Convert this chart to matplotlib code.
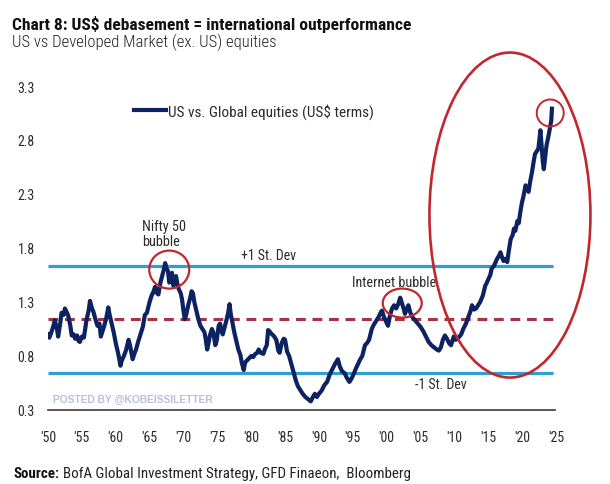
import matplotlib
matplotlib.use("Agg")
import matplotlib.pyplot as plt
import matplotlib.font_manager as fm
import matplotlib.transforms as mtransforms
from matplotlib.patches import Ellipse

# ---------------- data ----------------
years = [1950.0, 1950.2, 1950.5, 1950.8, 1951.0, 1951.3, 1951.5, 1951.8, 1952.0, 1952.3,
         1952.5, 1952.8, 1953.0, 1953.3, 1953.5, 1953.8, 1954.0, 1954.3, 1954.5, 1954.7,
         1955.0, 1955.3, 1955.7, 1956.0, 1956.2, 1956.5, 1956.7, 1957.0, 1957.3, 1957.6,
         1957.8, 1958.0, 1958.3, 1958.6, 1958.9, 1959.1, 1959.4, 1959.7, 1960.0, 1960.3,
         1960.5, 1960.7, 1960.9, 1961.2, 1961.5, 1961.9, 1962.1, 1962.5, 1962.8, 1963.0,
         1963.3, 1963.6, 1964.0, 1964.3, 1964.6, 1965.0, 1965.3, 1965.6, 1965.8, 1966.1,
         1966.3, 1966.6, 1966.9, 1967.1, 1967.3, 1967.5, 1967.7, 1967.9, 1968.1, 1968.3,
         1968.5, 1968.7, 1968.9, 1969.1, 1969.3, 1969.6, 1969.8, 1970.0, 1970.2, 1970.4,
         1970.7, 1971.0, 1971.2, 1971.4, 1971.6, 1971.9, 1972.2, 1972.5, 1972.8, 1973.1,
         1973.3, 1973.5, 1973.7, 1973.9, 1974.2, 1974.4, 1974.7, 1974.9, 1975.2, 1975.4,
         1975.6, 1975.8, 1976.0, 1976.3, 1976.6, 1976.8, 1977.0, 1977.2, 1977.5, 1977.8,
         1978.1, 1978.4, 1978.6, 1978.9, 1979.1, 1979.4, 1979.7, 1980.0, 1980.3, 1980.6,
         1980.9, 1981.1, 1981.4, 1981.8, 1982.0, 1982.3, 1982.5, 1982.7, 1982.9, 1983.1,
         1983.4, 1983.7, 1984.0, 1984.2, 1984.5, 1984.8, 1985.0, 1985.3, 1985.6, 1986.0,
         1986.3, 1986.6, 1986.9, 1987.2, 1987.6, 1988.0, 1988.4, 1988.8, 1989.1, 1989.4,
         1989.7, 1990.0, 1990.4, 1990.8, 1991.2, 1991.6, 1992.0, 1992.4, 1992.8, 1993.1,
         1993.4, 1993.8, 1994.1, 1994.5, 1994.8, 1995.1, 1995.5, 1995.8, 1996.1, 1996.4,
         1996.8, 1997.1, 1997.4, 1997.8, 1998.1, 1998.4, 1998.8, 1999.1, 1999.3, 1999.6,
         1999.9, 2000.2, 2000.5, 2000.8, 2001.1, 2001.4, 2001.7, 2002.0, 2002.2, 2002.5,
         2002.7, 2003.0, 2003.2, 2003.5, 2003.8, 2004.2, 2004.6, 2005.0, 2005.4, 2005.8,
         2006.2, 2006.6, 2007.0, 2007.4, 2007.7, 2008.0, 2008.3, 2008.6, 2008.9, 2009.2,
         2009.5, 2009.9, 2010.2, 2010.6, 2011.0, 2011.3, 2011.7, 2012.1, 2012.4, 2012.6,
         2012.9, 2013.2, 2013.5, 2013.8, 2014.2, 2014.55, 2014.8, 2015.0, 2015.3, 2015.5,
         2015.8, 2016.1, 2016.3, 2016.6, 2016.8, 2017.0, 2017.25, 2017.5, 2017.8, 2018.0,
         2018.3, 2018.6, 2018.8, 2019.0, 2019.3, 2019.5, 2019.7, 2019.97, 2020.2, 2020.5,
         2020.7, 2020.95, 2021.2, 2021.45, 2021.7, 2021.9, 2022.1, 2022.4, 2022.7, 2022.9,
         2023.05, 2023.2, 2023.4, 2023.6, 2023.9, 2024.15, 2024.3, 2024.4]
values = [1.00, 0.97, 1.02, 1.08, 1.13, 1.06, 0.98, 1.10, 1.20, 1.18,
          1.24, 1.20, 1.17, 1.08, 0.99, 1.00, 0.96, 0.99, 0.94, 0.93,
          0.98, 0.97, 1.14, 1.22, 1.31, 1.24, 1.21, 1.14, 1.08, 1.10,
          0.98, 1.02, 1.08, 1.15, 1.25, 1.18, 1.10, 1.02, 0.92, 0.84,
          0.78, 0.71, 0.76, 0.80, 0.85, 0.95, 0.90, 0.77, 0.83, 0.86,
          0.93, 0.99, 1.07, 1.18, 1.20, 1.30, 1.36, 1.40, 1.44, 1.38,
          1.37, 1.48, 1.55, 1.60, 1.66, 1.61, 1.59, 1.48, 1.52, 1.57,
          1.45, 1.48, 1.54, 1.47, 1.42, 1.38, 1.32, 1.22, 1.14, 1.18,
          1.27, 1.34, 1.40, 1.38, 1.30, 1.22, 1.14, 1.08, 1.05, 1.02,
          0.95, 0.86, 0.92, 0.99, 1.05, 1.02, 0.90, 0.94, 1.08, 1.10,
          1.04, 1.00, 1.05, 1.12, 1.20, 1.28, 1.18, 1.12, 1.02, 0.94,
          0.86, 0.81, 0.74, 0.67, 0.74, 0.76, 0.78, 0.80, 0.79, 0.82,
          0.83, 0.86, 0.83, 0.82, 0.86, 0.90, 1.04, 1.03, 1.01, 1.00,
          0.98, 0.95, 0.85, 0.83, 0.92, 0.96, 0.95, 0.84, 0.80, 0.71,
          0.64, 0.57, 0.52, 0.49, 0.45, 0.42, 0.40, 0.38, 0.42, 0.45,
          0.42, 0.45, 0.48, 0.53, 0.56, 0.63, 0.68, 0.73, 0.77, 0.70,
          0.66, 0.64, 0.60, 0.56, 0.59, 0.63, 0.69, 0.73, 0.77, 0.80,
          0.90, 0.92, 0.95, 1.05, 1.09, 1.12, 1.16, 1.20, 1.22, 1.16,
          1.12, 1.08, 1.18, 1.24, 1.27, 1.24, 1.28, 1.34, 1.30, 1.24,
          1.19, 1.24, 1.27, 1.20, 1.16, 1.13, 1.10, 1.07, 1.03, 0.98,
          0.93, 0.90, 0.88, 0.86, 0.85, 0.88, 0.95, 0.99, 0.96, 0.92,
          0.90, 0.98, 0.95, 0.97, 1.00, 1.05, 1.10, 1.17, 1.22, 1.27,
          1.23, 1.24, 1.27, 1.30, 1.36, 1.45, 1.48, 1.51, 1.55, 1.61,
          1.63, 1.67, 1.70, 1.73, 1.76, 1.72, 1.68, 1.70, 1.67, 1.76,
          1.88, 1.92, 1.98, 1.96, 2.05, 2.03, 2.12, 2.22, 2.28, 2.38,
          2.36, 2.32, 2.42, 2.50, 2.60, 2.67, 2.69, 2.72, 2.89, 2.72,
          2.60, 2.53, 2.64, 2.75, 2.84, 2.93, 2.98, 3.09]

mean_level = 1.14
plus_sd = 1.63
minus_sd = 0.64

y_ticks = [0.3, 0.8, 1.3, 1.8, 2.3, 2.8, 3.3]
y_tick_labels = ["0.3", "0.8", "1.3", "1.8", "2.3", "2.8", "3.3"]
x_ticks = [1950, 1955, 1960, 1965, 1970, 1975, 1980, 1985, 1990, 1995, 2000, 2005, 2010, 2015, 2020, 2025]
x_tick_labels = ["'50", "'55", "'60", "'65", "'70", "'75", "'80", "'85", "'90", "'95", "'00", "'05", "'10", "'15", "'20", "'25"]

series_label = "US vs. Global equities (US$ terms)"
title = "Chart 8: US$ debasement = international outperformance"
subtitle = "US vs Developed Market (ex. US) equities"

# ---------------- fonts ----------------
available = {f.name for f in fm.fontManager.ttflist}
narrow = next((n for n in ["Liberation Sans Narrow", "Roboto Condensed", "Open Sans Condensed",
                           "Noto Sans Display", "Liberation Sans"] if n in available), "DejaVu Sans")
plt.rcParams["font.family"] = [narrow, "DejaVu Sans"]

NAVY = "#0d2260"
LBLUE = "#2e9fd2"
DRED = "#a8323f"
RED = "#c1272d"
TXT = "#2b2b2b"

W, H = 610, 485
fig = plt.figure(figsize=(W / 100, H / 100), dpi=100)
ax = fig.add_axes([48 / W, 74 / H, 508 / W, 324 / H])
ax.set_xlim(1950, 2025)
ax.set_ylim(0.3, 3.3)

for s in ["top", "right", "left"]:
    ax.spines[s].set_visible(False)
ax.spines["bottom"].set_color("#3c3c3c")
ax.spines["bottom"].set_linewidth(1.2)
ax.spines["bottom"].set_bounds(1950, 2024.8)

ax.set_yticks(y_ticks)
ax.set_yticklabels(y_tick_labels)
ax.set_xticks(x_ticks)
ax.set_xticklabels(x_tick_labels)
ax.tick_params(axis="y", length=0, pad=9.5, labelsize=10, labelcolor=TXT)
ax.tick_params(axis="x", length=0, pad=14.5, labelsize=10, labelcolor=TXT)

# reference lines
ax.hlines([plus_sd, minus_sd], 1950, 2024.6, colors=LBLUE, linewidth=2.3, zorder=2)
ax.hlines(mean_level, 1950, 2024.6, colors=DRED, linewidth=2.2, linestyles=(0, (3.2, 2.2)), zorder=2)

# series
ax.plot(years, values, color=NAVY, linewidth=3.0, solid_joinstyle="round", zorder=3,
        label=series_label)

leg = ax.legend(loc="upper left", bbox_to_anchor=(0.143, 0.99), frameon=False,
                handlelength=2.1, handletextpad=0.1, fontsize=11)
for t in leg.get_texts():
    t.set_color(TXT)

# annotation texts
ax.text(1963.9, 2.07, "Nifty 50\nbubble", fontsize=10.3, color=TXT, va="top", ha="left", linespacing=1.1)
ax.text(1982.5, 1.735, "+1 St. Dev", fontsize=10, color=TXT, va="center", ha="center")
ax.text(2001.1, 1.485, "Internet bubble", fontsize=10.3, color=TXT, va="center", ha="center")
ax.text(2008.05, 0.54, "-1 St. Dev", fontsize=10, color=TXT, va="center", ha="center")
ax.text(1950.7, 0.40, "POSTED BY @KOBEISSILETTER", fontsize=7.4, color="#b5c1dc",
        fontweight="bold", family=["Liberation Sans", "DejaVu Sans"], va="center", ha="left")

# ellipses (size in pixels, centre in data)
def ring(xd, yd, wpx, hpx, lw, color):
    tr = fig.dpi_scale_trans + mtransforms.ScaledTranslation(xd, yd, ax.transData)
    e = Ellipse((0, 0), wpx / 100, hpx / 100, transform=tr, fill=False,
                edgecolor=color, linewidth=lw, clip_on=False, zorder=4)
    fig.add_artist(e)

ring(1967.9, 1.60, 40, 38, 1.6, RED)
ring(2002.3, 1.29, 39, 29, 1.6, RED)
ring(2024.15, 3.05, 27, 27, 1.4, RED)
ring(2018.2, 2.105, 161, 325, 1.9, RED)

# titles and source
fig.text(12 / W, 1 - 30 / H, title, fontsize=12.6, fontweight="bold", color="#111111", va="baseline")
fig.text(12 / W, 1 - 47 / H, subtitle, fontsize=12.0, fontweight="light", color="#222222", va="baseline")

src1 = fig.text(14 / W, 1 - 478 / H, "Source:", fontsize=10.8, fontweight="bold", color="#111111", va="baseline")
fig.canvas.draw()
bb = src1.get_window_extent()
fig.text((bb.x1 + 3) / W, 1 - 478 / H, "BofA Global Investment Strategy, GFD Finaeon,  Bloomberg",
         fontsize=10.8, color="#222222", va="baseline")

fig.savefig("out.png", dpi=100)
